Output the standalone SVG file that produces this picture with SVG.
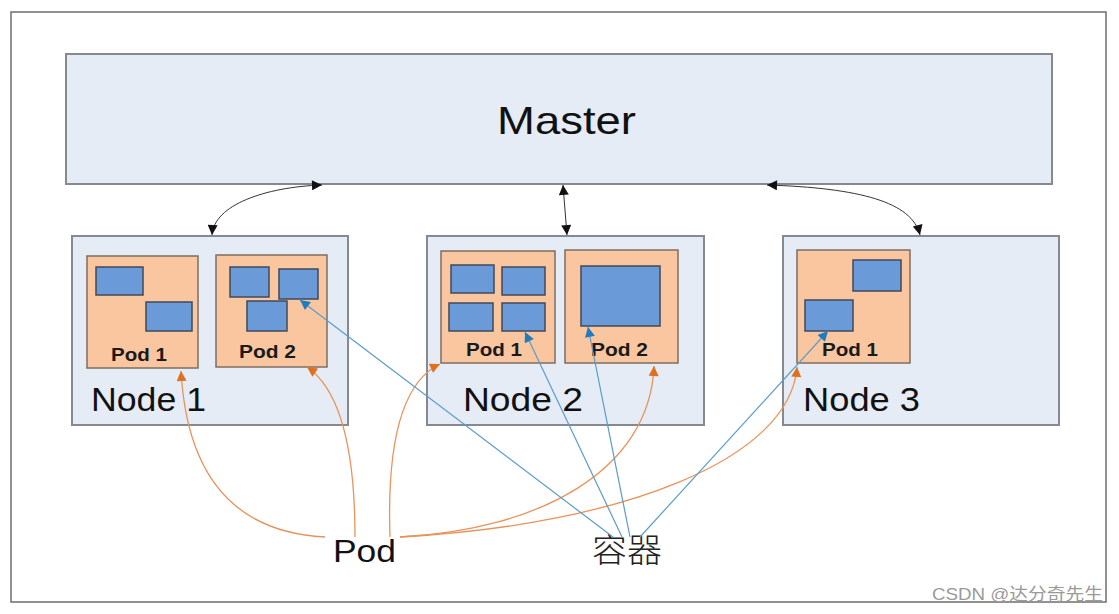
<svg xmlns="http://www.w3.org/2000/svg" width="1119" height="614" viewBox="0 0 1119 614">
<style>
.box{fill:#e5ecf6;stroke:#858a90;stroke-width:2}
.pod{fill:#f9c6a0;stroke:#7d6e62;stroke-width:1.5}
.ctr{fill:#6b9ad9;stroke:#404a58;stroke-width:1.5}
.big{font-family:"Liberation Sans",Arial,sans-serif;fill:#111}
.podl{font-family:"Liberation Sans",Arial,sans-serif;font-weight:bold;font-size:18px;fill:#1a1a1a}
.blk{fill:none;stroke:#333;stroke-width:1}
.org{fill:none;stroke:#e8935a;stroke-width:1.3}
.blu{fill:none;stroke:#5a9ccc;stroke-width:1.2}
</style>
<defs>
<marker id="ab" viewBox="0 0 10 10" refX="10" refY="5" markerWidth="13" markerHeight="10" markerUnits="userSpaceOnUse" orient="auto-start-reverse"><path d="M0,0L10,5L0,10z" fill="#111"/></marker>
<marker id="ao" viewBox="0 0 10 10" refX="10" refY="5" markerWidth="12" markerHeight="10" markerUnits="userSpaceOnUse" orient="auto"><path d="M0,0L10,5L0,10z" fill="#e0701e"/></marker>
<marker id="abl" viewBox="0 0 10 10" refX="10" refY="5" markerWidth="12" markerHeight="10" markerUnits="userSpaceOnUse" orient="auto"><path d="M0,0L10,5L0,10z" fill="#1f7cc0"/></marker>
</defs>
<rect x="0" y="0" width="1119" height="614" fill="#fff"/>
<rect x="11" y="12" width="1095" height="590" fill="none" stroke="#6e6e6e" stroke-width="1.5"/>

<g id="master">
<rect class="box" x="66" y="54" width="986" height="130"/>
<text class="big" x="497" y="134" font-size="39" textLength="139" lengthAdjust="spacingAndGlyphs">Master</text>
</g>

<g id="node1">
<rect class="box" x="72" y="236" width="276" height="189"/>
<text class="big" x="91" y="411" font-size="33" textLength="115" lengthAdjust="spacingAndGlyphs">Node 1</text>
</g>
<g id="node1-pod1">
<rect class="pod" x="87" y="256" width="111" height="112"/>
<rect class="ctr" x="96" y="267" width="47" height="28"/>
<rect class="ctr" x="146" y="302" width="46" height="29"/>
<text class="podl" x="111" y="361" textLength="56" lengthAdjust="spacingAndGlyphs">Pod 1</text>
</g>
<g id="node1-pod2">
<rect class="pod" x="216" y="255" width="111" height="112"/>
<rect class="ctr" x="230" y="267" width="39" height="30"/>
<rect class="ctr" x="279" y="269" width="39" height="30"/>
<rect class="ctr" x="247" y="301" width="40" height="30"/>
<text class="podl" x="239" y="358" textLength="57" lengthAdjust="spacingAndGlyphs">Pod 2</text>
</g>

<g id="node2">
<rect class="box" x="427" y="236" width="277" height="189"/>
<text class="big" x="463" y="411" font-size="33" textLength="120" lengthAdjust="spacingAndGlyphs">Node 2</text>
</g>
<g id="node2-pod1">
<rect class="pod" x="441" y="251" width="114" height="112"/>
<rect class="ctr" x="451" y="265" width="43" height="28"/>
<rect class="ctr" x="502" y="267" width="43" height="28"/>
<rect class="ctr" x="449" y="303" width="44" height="28"/>
<rect class="ctr" x="502" y="303" width="43" height="28"/>
<text class="podl" x="466" y="356" textLength="56" lengthAdjust="spacingAndGlyphs">Pod 1</text>
</g>
<g id="node2-pod2">
<rect class="pod" x="565" y="250" width="113" height="113"/>
<rect class="ctr" x="581" y="266" width="79" height="60"/>
<text class="podl" x="591" y="356" textLength="57" lengthAdjust="spacingAndGlyphs">Pod 2</text>
</g>

<g id="node3">
<rect class="box" x="783" y="236" width="276" height="189"/>
<text class="big" x="803" y="411" font-size="33" textLength="117" lengthAdjust="spacingAndGlyphs">Node 3</text>
</g>
<g id="node3-pod1">
<rect class="pod" x="797" y="250" width="113" height="113"/>
<rect class="ctr" x="853" y="260" width="48" height="31"/>
<rect class="ctr" x="805" y="300" width="48" height="31"/>
<text class="podl" x="822" y="356" textLength="56" lengthAdjust="spacingAndGlyphs">Pod 1</text>
</g>

<g id="label-pod">
<text class="big" x="333" y="562" font-size="32" textLength="63" lengthAdjust="spacingAndGlyphs">Pod</text>
</g>
<g id="label-container">
<text x="592" y="562" font-size="33" font-family="'Noto Sans CJK SC','Liberation Sans',sans-serif" font-weight="300" fill="#222" textLength="70" lengthAdjust="spacingAndGlyphs">容器</text>
</g>

<g id="connectors">
<path class="blk" d="M212,235 C214,205 265,187 322,185" marker-start="url(#ab)" marker-end="url(#ab)"/>
<path class="blk" d="M563,185 L567,235" marker-start="url(#ab)" marker-end="url(#ab)"/>
<path class="blk" d="M767,185 C860,188 912,202 920,235" marker-start="url(#ab)" marker-end="url(#ab)"/>

<path class="org" d="M325,537 Q190,530 181,371" marker-end="url(#ao)"/>
<path class="org" d="M355,537 Q355,400 307,367" marker-end="url(#ao)"/>
<path class="org" d="M390,537 Q385,390 440,364" marker-end="url(#ao)"/>
<path class="org" d="M400,537 C540,530 650,470 654,366" marker-end="url(#ao)"/>
<path class="org" d="M400,537 C620,525 790,460 797,367" marker-end="url(#ao)"/>

<path class="blu" d="M613,537 L300,300" marker-end="url(#abl)"/>
<path class="blu" d="M622,537 L525,332" marker-end="url(#abl)"/>
<path class="blu" d="M630,537 L588,327" marker-end="url(#abl)"/>
<path class="blu" d="M640,537 L828,331" marker-end="url(#abl)"/>
</g>

<text x="932" y="600" font-size="17" font-family="'Liberation Sans','Noto Sans CJK SC',sans-serif" fill="#9a9a9a" textLength="171" lengthAdjust="spacingAndGlyphs">CSDN @达分奇先生</text>
</svg>
